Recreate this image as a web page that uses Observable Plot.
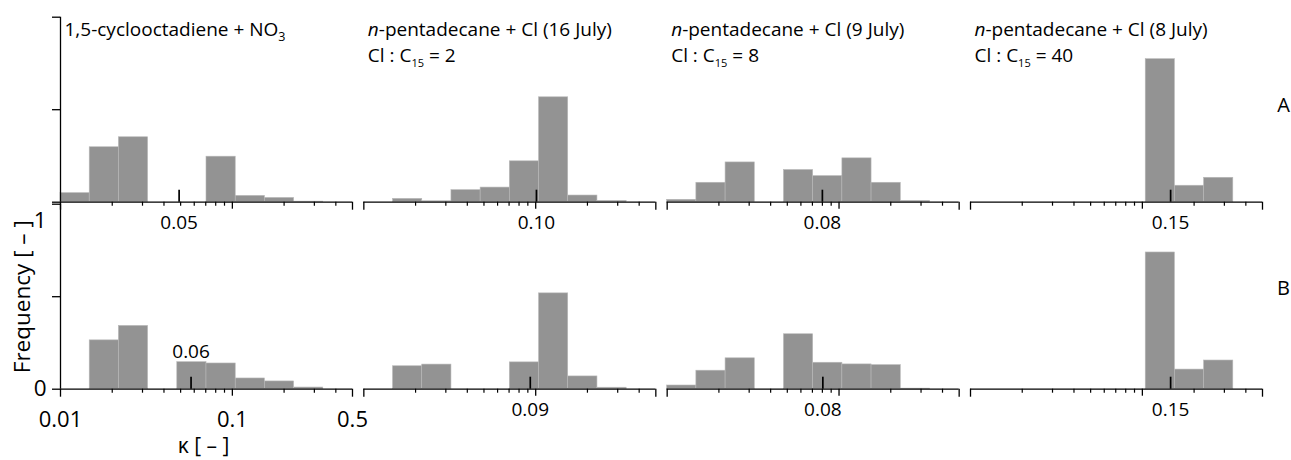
<!DOCTYPE html>
<html><head><meta charset="utf-8">
<script src="https://cdn.jsdelivr.net/npm/d3@7"></script>
<script src="https://cdn.jsdelivr.net/npm/@observablehq/plot@0.6"></script>
<style>
html,body{margin:0;padding:0;background:#fff;}
svg{font-family:"Open Sans",sans-serif;}
</style></head><body><div id="chart"></div>
<script>
// ---- data ----
const panels = ["cod", "pen16", "pen9", "pen8"];
const rows = ["A", "B"];
const titles1 = ["1,5-cyclooctadiene + NO_{3}", "*n*-pentadecane + Cl (16 July)", "*n*-pentadecane + Cl (9 July)", "*n*-pentadecane + Cl (8 July)"];
const titles2 = ["", "Cl : C_{15} = 2", "Cl : C_{15} = 8", "Cl : C_{15} = 40"];
const binEdges = [0.01, 0.01479, 0.02187, 0.03234, 0.04782, 0.07071, 0.1046, 0.1546, 0.2287, 0.3381, 0.5];
const codA   = [0.049, 0.297, 0.351, 0, 0, 0.246, 0.034, 0.023, 0.003, 0];
const codB   = [0, 0.264, 0.342, 0, 0.146, 0.139, 0.058, 0.042, 0.009, 0];
const pen16A = [0, 0.018, 0.005, 0.065, 0.079, 0.221, 0.567, 0.036, 0.007, 0];
const pen16B = [0, 0.124, 0.133, 0, 0, 0.145, 0.518, 0.069, 0.008, 0];
const pen9A  = [0.013, 0.105, 0.215, 0, 0.174, 0.141, 0.237, 0.105, 0.007, 0];
const pen9B  = [0.02, 0.1, 0.167, 0, 0.297, 0.143, 0.134, 0.13, 0.003, 0];
const pen8A  = [0, 0, 0, 0, 0, 0, 0.773, 0.089, 0.132, 0];
const pen8B  = [0, 0, 0, 0, 0, 0, 0.739, 0.106, 0.155, 0];
const medianA = [0.049, 0.101, 0.080, 0.146];
const medianB = [0.0575, 0.093, 0.0805, 0.146];
const medianLabelA = ["0.05", "0.10", "0.08", "0.15"];
const medianLabelB = ["0.06", "0.09", "0.08", "0.15"];
const minorTicks = [0.02, 0.03, 0.04, 0.05, 0.06, 0.07, 0.08, 0.09, 0.2, 0.3, 0.4];
const majorTicks = [0.1];
const endTicks = [0.01, 0.5];
const yTicks = [0, 0.5, 1];
const xTickValues = [0.01, 0.1, 0.5];
const xTickLabels = ["0.01", "0.1", "0.5"];
const yTickLabelValues = [1, 0];
const yTickLabels = ["1", "0"];
const rowLabels = ["A", "B"];

// ---- build tables ----
const series = {cod: {A: codA, B: codB}, pen16: {A: pen16A, B: pen16B}, pen9: {A: pen9A, B: pen9B}, pen8: {A: pen8A, B: pen8B}};
const bars = [];
for (const p of panels) for (const r of rows) series[p][r].forEach((f, i) => {
  if (f > 0) bars.push({panel: p, row: r, x1: binEdges[i], x2: binEdges[i + 1], f});
});
const medians = [];
panels.forEach((p, i) => {
  medians.push({panel: p, row: "A", v: medianA[i], label: medianLabelA[i]});
  medians.push({panel: p, row: "B", v: medianB[i], label: medianLabelB[i]});
});
const titleData = panels.map((p, i) => ({panel: p, row: "A", t1: titles1[i], t2: titles2[i]}));
const yAxisData = rows.map(r => ({panel: "cod", row: r}));
const yTickData = rows.flatMap(r => yTicks.map(t => ({panel: "cod", row: r, t})));
const xLabelData = xTickValues.map((v, i) => ({panel: "cod", row: "B", v, label: xTickLabels[i]}));
const yLabelData = yTickLabelValues.map((v, i) => ({panel: "cod", row: "B", v, label: yTickLabels[i]}));
const rowLabelA = [{panel: "pen8", row: "A", label: rowLabels[0]}];
const rowLabelB = [{panel: "pen8", row: "B", label: rowLabels[1]}];

const medLabelMain = medians.filter(d => !(d.panel === "cod" && d.row === "B"));
const medLabelAbove = medians.filter(d => d.panel === "cod" && d.row === "B");

const chart = Plot.plot({
  width: 1291,
  height: 460,
  marginLeft: 60,
  marginRight: 29,
  marginTop: 16.7,
  marginBottom: 71.3,
  style: {fontFamily: "'Open Sans', sans-serif", background: "#fff", overflow: "visible"},
  x: {type: "log", domain: [0.01, 0.5], axis: null},
  y: {domain: [0, 1], axis: null},
  fx: {domain: panels, axis: null, paddingInner: 0.0374, paddingOuter: 0, round: false},
  fy: {domain: rows, axis: null, paddingInner: 0.0107, paddingOuter: 0, round: false},
  marks: [
    Plot.rectY(bars, {x1: "x1", x2: "x2", y: "f", fx: "panel", fy: "row", fill: "#939393", stroke: "#b8b8b8", strokeWidth: 0.6}),
    Plot.ruleY([0], {stroke: "#000", strokeWidth: 1.3}),
    Plot.ruleX(minorTicks, {x: d => d, y1: 0, y2: 0, insetBottom: -4, stroke: "#000", strokeWidth: 1.2}),
    Plot.ruleX(majorTicks, {x: d => d, y1: 0, y2: 0, insetBottom: -7, stroke: "#000", strokeWidth: 1.3}),
    Plot.ruleX(endTicks, {x: d => d, y1: 0, y2: 0, insetBottom: -8, stroke: "#000", strokeWidth: 1.3}),
    Plot.ruleX(medians, {x: "v", y1: 0, y2: 0, insetTop: -12, fx: "panel", fy: "row", stroke: "#000", strokeWidth: 1.7}),
    Plot.ruleX(yAxisData, {x: () => 0.01, y1: () => 0, y2: () => 1, fx: "panel", fy: "row", stroke: "#000", strokeWidth: 1.3}),
    Plot.ruleY(yTickData, {y: "t", x1: () => 0.01, x2: () => 0.01, insetLeft: -8, fx: "panel", fy: "row", stroke: "#000", strokeWidth: 1.3}),
    Plot.text(medLabelMain, {x: "v", y: () => 0, text: "label", fx: "panel", fy: "row", dy: 21, fontSize: 19, fill: "#000"}),
    Plot.text(medLabelAbove, {x: "v", y: () => 0, text: "label", fx: "panel", fy: "row", dy: -37, fontSize: 19, fill: "#000"}),
    Plot.text(xLabelData, {x: "v", y: () => 0, text: "label", fx: "panel", fy: "row", dy: 31, fontSize: 22, fill: "#000"}),
    Plot.text(yLabelData, {x: () => 0.01, y: "v", text: "label", fx: "panel", fy: "row", dx: -14, textAnchor: "end", fontSize: 22.5, fill: "#000"}),
    Plot.text(["κ [ – ]"], {fx: () => "cod", fy: () => "B", frameAnchor: "bottom", lineAnchor: "middle", dx: -3, dy: 57.5, text: d => d, fontSize: 21, fill: "#000"}),
    Plot.text(["Frequency [ – ]"], {fx: () => "cod", fy: () => "B", x: () => 0.01, y: () => 0.5, dx: -38, rotate: -90, text: d => d, fontSize: 22.5, fill: "#000"}),
    Plot.text(titleData, {fx: "panel", fy: "row", text: "t1", frameAnchor: "top-left", textAnchor: "start", lineAnchor: "middle", dx: 4, dy: 12.7, fontSize: 19, fill: "#000"}),
    Plot.text(titleData.filter(d => d.t2), {fx: "panel", fy: "row", text: "t2", frameAnchor: "top-left", textAnchor: "start", lineAnchor: "middle", dx: 4, dy: 38.9, fontSize: 19, fill: "#000"}),
    Plot.text(rowLabelA, {fx: "panel", fy: "row", text: "label", frameAnchor: "right", textAnchor: "middle", dx: 21, dy: -4, fontSize: 20, fill: "#000"}),
    Plot.text(rowLabelB, {fx: "panel", fy: "row", text: "label", frameAnchor: "right", textAnchor: "middle", dx: 21, dy: -8, fontSize: 20, fill: "#000"})
  ]
});

// rich text: italics and subscripts
const SVGNS = "http://www.w3.org/2000/svg";
chart.querySelectorAll("text").forEach(t => {
  const s = t.textContent;
  if (!/\*|_\{/.test(s)) return;
  const parts = s.split(/(\*[^*]+\*|_\{[^}]+\})/).filter(p => p !== "");
  t.textContent = "";
  let pending = null;
  for (const p of parts) {
    const ts = document.createElementNS(SVGNS, "tspan");
    if (p.startsWith("_{")) {
      ts.textContent = p.slice(2, -1);
      const small = p.length > 4 ? 0.58 : 0.66;
      ts.setAttribute("font-size", (small * 100) + "%");
      ts.setAttribute("dy", "0.4em");
      pending = (-0.4 * small).toFixed(3) + "em";
    } else {
      if (p.startsWith("*")) { ts.textContent = p.slice(1, -1); ts.setAttribute("font-style", "italic"); }
      else ts.textContent = p;
      if (pending) { ts.setAttribute("dy", pending); pending = null; }
    }
    t.appendChild(ts);
  }
});
// the "1" tick label sits just below the top of the axis in the figure
chart.querySelectorAll("text").forEach(t => {
  if (t.textContent === "1") t.setAttribute("dy", "0.75em");
});
document.getElementById("chart").appendChild(chart);
</script>
</body></html>
